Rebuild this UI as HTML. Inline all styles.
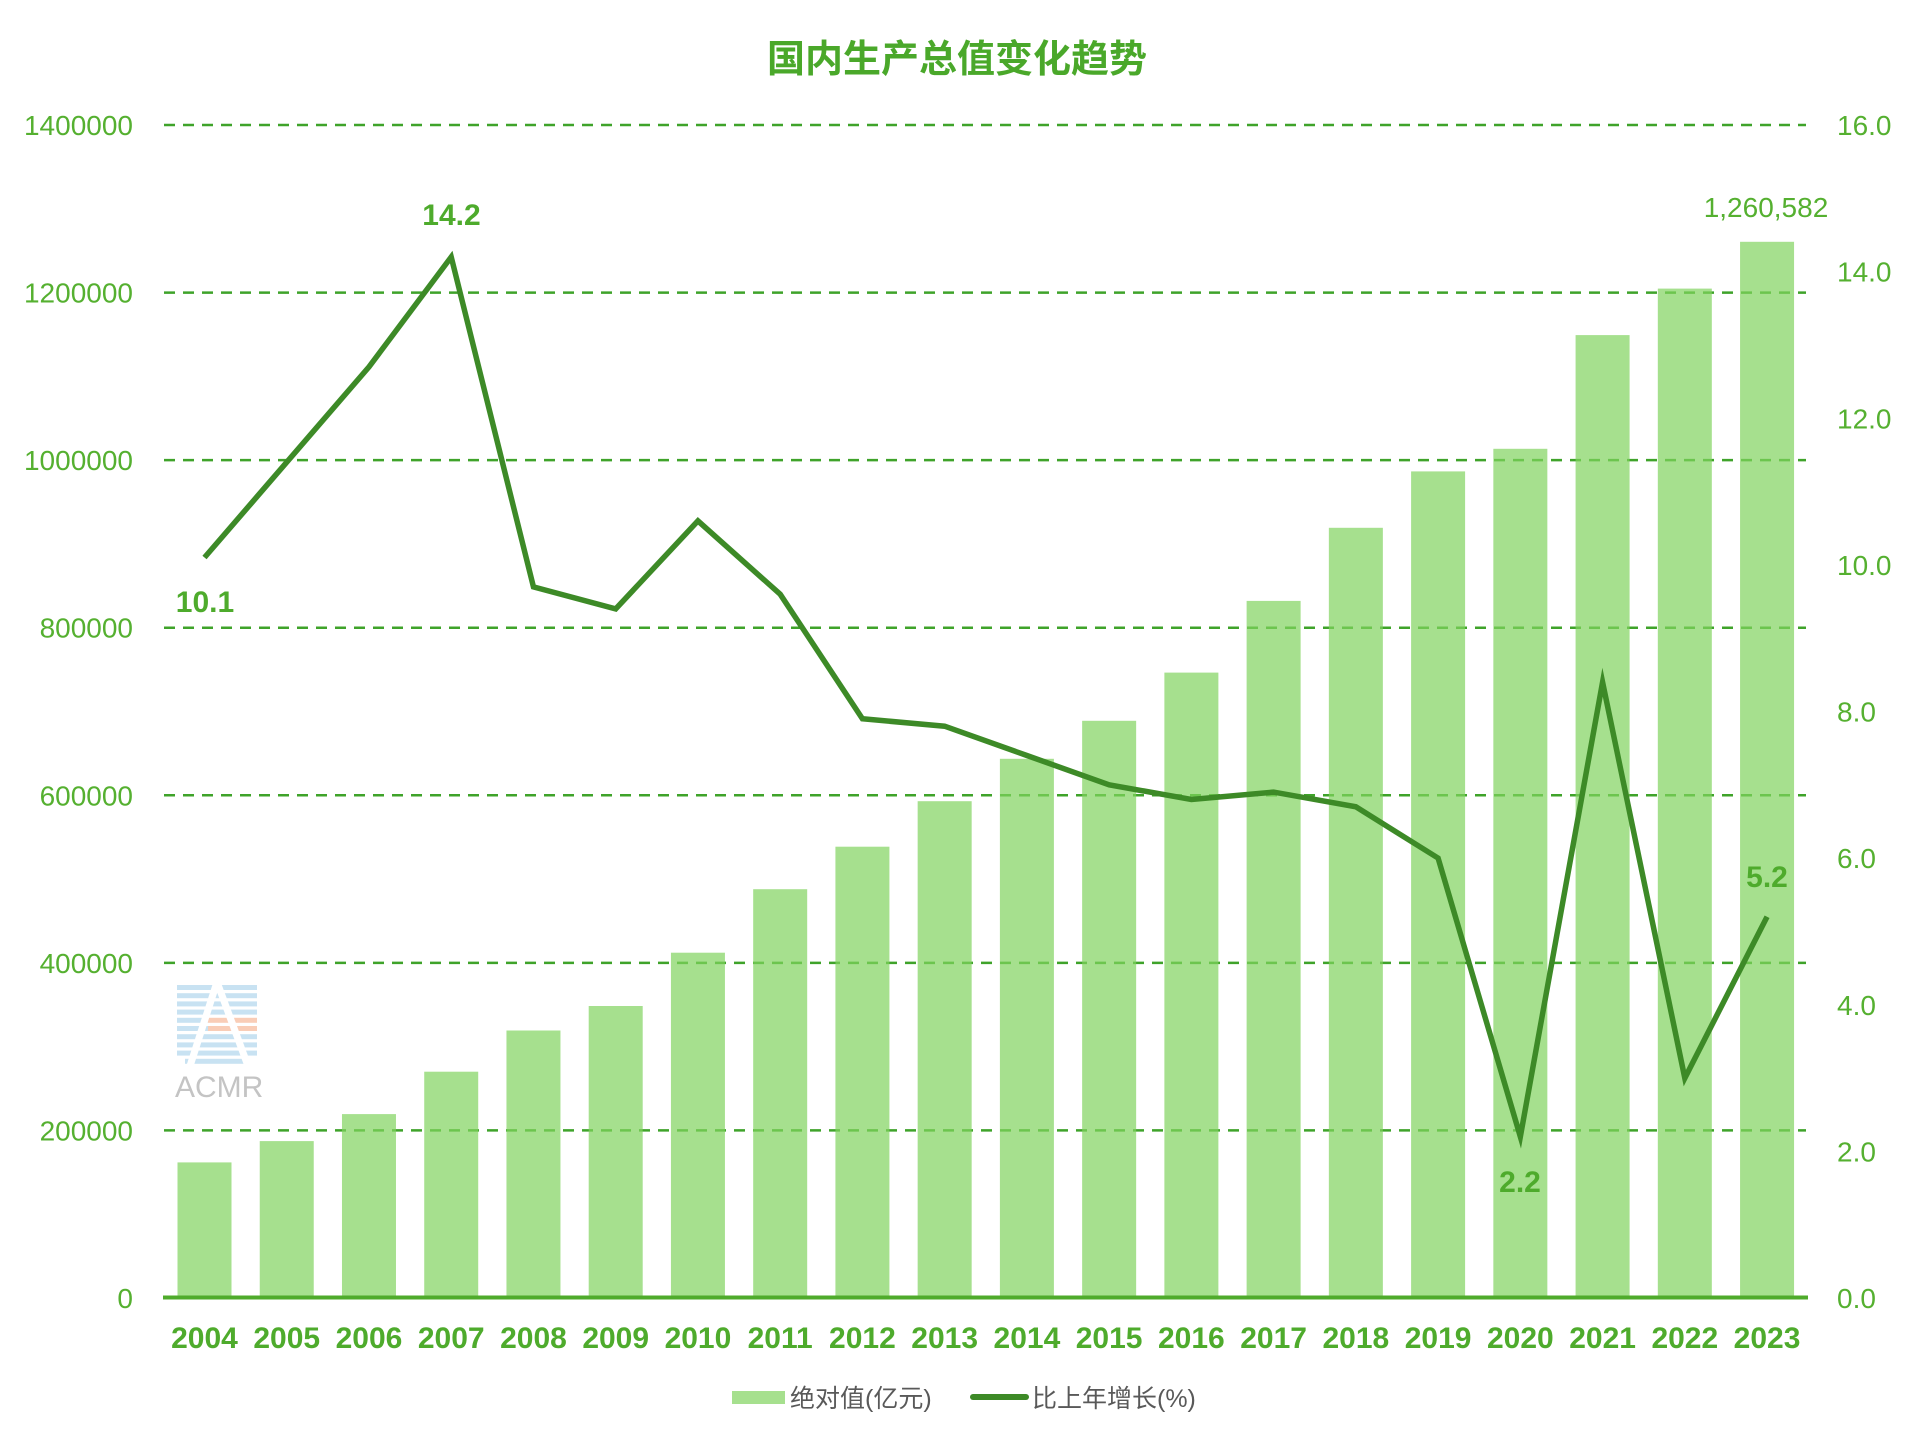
<!DOCTYPE html>
<html>
<head>
<meta charset="utf-8">
<style>
html,body{margin:0;padding:0;background:#fff;}
svg{display:block;}
.yl{font-family:"Liberation Sans","Noto Sans CJK SC",sans-serif;font-size:28px;fill:#55b030;}
.xl{font-family:"Liberation Sans","Noto Sans CJK SC",sans-serif;font-size:30px;font-weight:bold;fill:#4eab2c;}
.dl{font-family:"Liberation Sans","Noto Sans CJK SC",sans-serif;font-size:30px;font-weight:bold;fill:#4eab2c;}
.lg{font-family:"Liberation Sans","Noto Sans CJK SC",sans-serif;font-size:25px;fill:#595959;}
</style>
</head>
<body>
<svg width="1920" height="1439" viewBox="0 0 1920 1439" xmlns="http://www.w3.org/2000/svg">
<rect width="1920" height="1439" fill="#fff"/>
<!-- title -->
<text x="957" y="72" text-anchor="middle" style="font-family:'Liberation Sans','Noto Sans CJK SC',sans-serif;font-size:38px;font-weight:bold;fill:#4aa82a;">国内生产总值变化趋势</text>

<!-- gridlines -->
<g stroke="#3fa32a" stroke-width="2.5" stroke-dasharray="11 8">
<line x1="164" y1="125" x2="1806" y2="125"/>
<line x1="164" y1="292.6" x2="1806" y2="292.6"/>
<line x1="164" y1="460.1" x2="1806" y2="460.1"/>
<line x1="164" y1="627.7" x2="1806" y2="627.7"/>
<line x1="164" y1="795.3" x2="1806" y2="795.3"/>
<line x1="164" y1="962.9" x2="1806" y2="962.9"/>
<line x1="164" y1="1130.4" x2="1806" y2="1130.4"/>
</g>

<!-- watermark -->
<g>
<g fill="#c8e2f2">
<rect x="177" y="985" width="80" height="5"/>
<rect x="177" y="993.2" width="80" height="5"/>
<rect x="177" y="1001.4" width="80" height="5"/>
<rect x="177" y="1009.6" width="80" height="5"/>
<rect x="177" y="1017.8" width="31" height="5"/>
<rect x="177" y="1026" width="31" height="5"/>
<rect x="177" y="1034.2" width="80" height="5"/>
<rect x="177" y="1042.4" width="80" height="5"/>
<rect x="177" y="1050.6" width="80" height="5"/>
<rect x="185" y="1058.8" width="64" height="5"/>
</g>
<g fill="#f9cdb7">
<rect x="208" y="1017.8" width="49" height="5"/>
<rect x="208" y="1026" width="49" height="5"/>
</g>
<g stroke="#fff" stroke-width="7" fill="none">
<line x1="217" y1="982" x2="190" y2="1066"/>
<line x1="217" y1="982" x2="248" y2="1066"/>
</g>
<text x="175" y="1097" style="font-family:'Liberation Sans',sans-serif;font-size:30px;fill:#c4c4c4;">ACMR</text>
</g>

<!-- bars -->
<g fill="#80d35e" fill-opacity="0.7">
<rect x="177.5" y="1162.4" width="54" height="135.6"/>
<rect x="259.74" y="1141.1" width="54" height="156.9"/>
<rect x="341.98" y="1114.1" width="54" height="183.9"/>
<rect x="424.22" y="1071.7" width="54" height="226.3"/>
<rect x="506.46" y="1030.5" width="54" height="267.5"/>
<rect x="588.7" y="1006.0" width="54" height="292.0"/>
<rect x="670.94" y="952.7" width="54" height="345.3"/>
<rect x="753.18" y="889.2" width="54" height="408.8"/>
<rect x="835.42" y="846.7" width="54" height="451.3"/>
<rect x="917.66" y="801.2" width="54" height="496.8"/>
<rect x="999.9" y="758.8" width="54" height="539.2"/>
<rect x="1082.14" y="720.8" width="54" height="577.2"/>
<rect x="1164.38" y="672.6" width="54" height="625.4"/>
<rect x="1246.62" y="600.9" width="54" height="697.1"/>
<rect x="1328.86" y="527.8" width="54" height="770.2"/>
<rect x="1411.1" y="471.4" width="54" height="826.6"/>
<rect x="1493.34" y="448.8" width="54" height="849.2"/>
<rect x="1575.58" y="335.1" width="54" height="962.9"/>
<rect x="1657.82" y="288.6" width="54" height="1009.4"/>
<rect x="1740.06" y="241.8" width="54" height="1056.2"/>
</g>

<!-- axis line -->
<line x1="163" y1="1297.5" x2="1808" y2="1297.5" stroke="#4fab2b" stroke-width="4"/>

<!-- growth line -->
<polyline fill="none" stroke="#3d8a27" stroke-width="5.5" stroke-linejoin="miter" stroke-miterlimit="10"
points="204.5,557.5 286.74,462.2 368.98,366.9 451.22,257.0 533.46,586.9 615.7,608.9 697.94,520.9 780.18,594.2 862.42,718.8 944.66,726.2 1026.9,755.5 1109.14,784.8 1191.38,799.5 1273.62,792.1 1355.86,806.8 1438.1,858.1 1520.34,1136.7 1602.58,682.2 1684.82,1078.1 1767.06,916.8"/>

<!-- left y labels -->
<g class="yl" text-anchor="end">
<text x="133" y="135">1400000</text>
<text x="133" y="302.6">1200000</text>
<text x="133" y="470.1">1000000</text>
<text x="133" y="637.7">800000</text>
<text x="133" y="805.3">600000</text>
<text x="133" y="972.9">400000</text>
<text x="133" y="1140.4">200000</text>
<text x="133" y="1308">0</text>
</g>

<!-- right y labels -->
<g class="yl" text-anchor="start">
<text x="1837" y="135">16.0</text>
<text x="1837" y="281.6">14.0</text>
<text x="1837" y="428.3">12.0</text>
<text x="1837" y="574.9">10.0</text>
<text x="1837" y="721.5">8.0</text>
<text x="1837" y="868.1">6.0</text>
<text x="1837" y="1014.8">4.0</text>
<text x="1837" y="1161.4">2.0</text>
<text x="1837" y="1308">0.0</text>
</g>

<!-- x labels -->
<g class="xl" text-anchor="middle">
<text x="204.5" y="1348">2004</text>
<text x="286.74" y="1348">2005</text>
<text x="368.98" y="1348">2006</text>
<text x="451.22" y="1348">2007</text>
<text x="533.46" y="1348">2008</text>
<text x="615.7" y="1348">2009</text>
<text x="697.94" y="1348">2010</text>
<text x="780.18" y="1348">2011</text>
<text x="862.42" y="1348">2012</text>
<text x="944.66" y="1348">2013</text>
<text x="1026.9" y="1348">2014</text>
<text x="1109.14" y="1348">2015</text>
<text x="1191.38" y="1348">2016</text>
<text x="1273.62" y="1348">2017</text>
<text x="1355.86" y="1348">2018</text>
<text x="1438.1" y="1348">2019</text>
<text x="1520.34" y="1348">2020</text>
<text x="1602.58" y="1348">2021</text>
<text x="1684.82" y="1348">2022</text>
<text x="1767.06" y="1348">2023</text>
</g>

<!-- data labels -->
<g class="dl" text-anchor="middle">
<text x="205" y="612">10.1</text>
<text x="451.5" y="225">14.2</text>
<text x="1520" y="1192">2.2</text>
<text x="1767" y="887">5.2</text>
</g>
<text x="1766" y="217" text-anchor="middle" class="yl">1,260,582</text>

<!-- legend -->
<rect x="732" y="1391" width="53" height="13" fill="#a6e08e"/>
<text x="790" y="1407" class="lg">绝对值(亿元)</text>
<line x1="973" y1="1397" x2="1026" y2="1397" stroke="#3d8a27" stroke-width="6" stroke-linecap="round"/>
<text x="1032" y="1407" class="lg">比上年增长(%)</text>
</svg>
</body>
</html>
